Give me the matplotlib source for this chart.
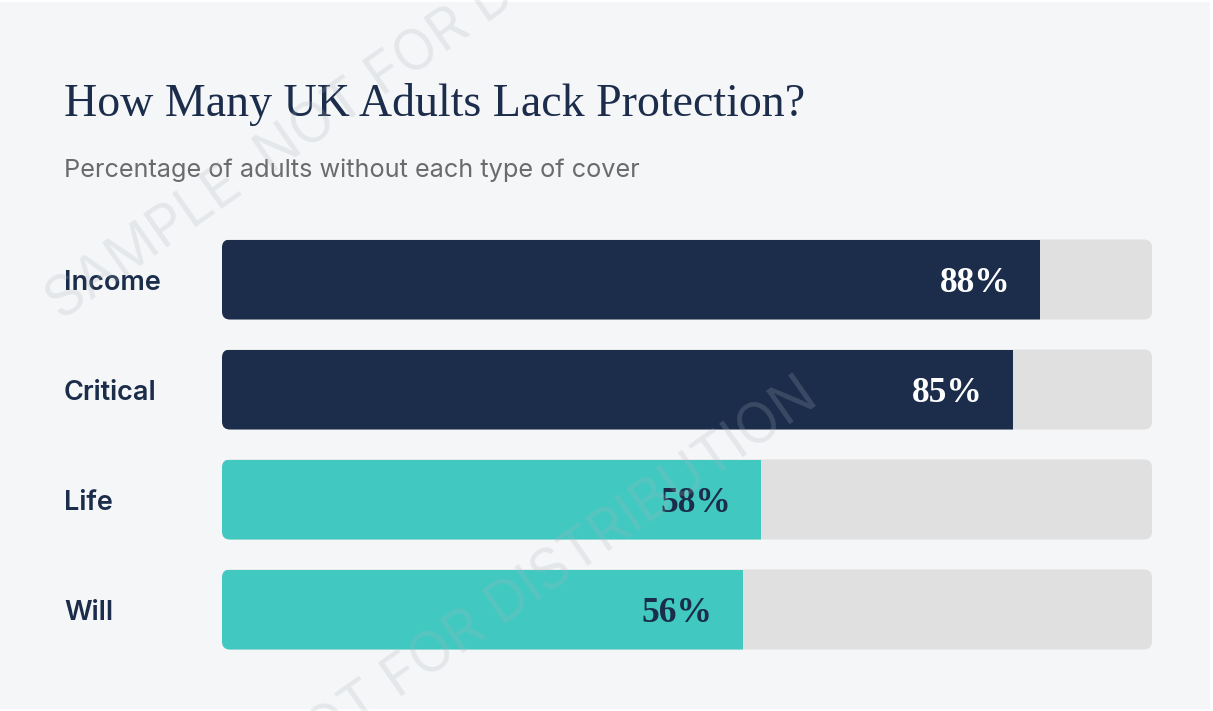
import matplotlib
matplotlib.use("Agg")
import matplotlib.pyplot as plt
from matplotlib.patches import FancyBboxPatch, Rectangle

# data
categories = ["Income", "Critical", "Life", "Will"]
values = [88, 85, 58, 56]
value_labels = ["88%", "85%", "58%", "56%"]

title = "How Many UK Adults Lack Protection?"
subtitle = "Percentage of adults without each type of cover"
watermark = "SAMPLE  NOT FOR DISTRIBUTION"

# style
W, H = 1213, 711
navy = "#1b2d4b"
teal = "#41c9c1"
track_col = "#e0e0e0"
bg = "#f5f6f8"
bar_colors = [navy, navy, teal, teal]
text_colors = ["white", "white", navy, navy]

fig = plt.figure(figsize=(W / 100, H / 100), dpi=100, facecolor="white")
fig.patches.append(Rectangle((0, 2), 1210, 707, transform=None, facecolor=bg,
                             edgecolor="none", zorder=-10))

px = lambda x, y: (x / W, 1 - y / H)

fig.text(*px(64, 116), title, family=["Liberation Serif", "DejaVu Serif"],
         fontsize=33, color=navy, ha="left", va="baseline")
fig.text(*px(64, 177), subtitle, family=["Inter", "DejaVu Sans"],
         fontsize=18.2, color="#6b6b6b", ha="left", va="baseline")

# bar axes: 930 px wide for 0-100, rows 110 px apart
ax = fig.add_axes([222 / W, (H - 664.5) / H, 930 / W, 440 / H])
ax.set_xlim(0, 100)
ax.set_ylim(len(categories) - 0.5, -0.5)
ax.axis("off")

bh = 80 / 110
aspect = (1 / 110) / (100 / 930)
rs = 8 * 100 / 930
ypos = list(range(len(categories)))

tracks = []
for i in ypos:
    t = FancyBboxPatch((0, i - bh / 2), 100, bh,
                       boxstyle=f"round,pad=0,rounding_size={rs}",
                       mutation_aspect=aspect, facecolor=track_col,
                       edgecolor="none", zorder=1)
    ax.add_patch(t)
    tracks.append(t)

bars = ax.barh(ypos, values, height=bh, color=bar_colors, zorder=2)
for b, t in zip(bars, tracks):
    b.set_clip_path(t)

for i, (v, lab, tc) in enumerate(zip(values, value_labels, text_colors)):
    ax.annotate(lab, (v, i), xytext=(-30, -12), textcoords="offset pixels",
                ha="right", va="baseline", color=tc, fontsize=25.5,
                fontweight="bold", family=["Liberation Serif", "DejaVu Serif"],
                zorder=3)

for i, cat in enumerate(categories):
    ax.annotate(cat, (0, i), xytext=(-158, -10.5), textcoords="offset pixels",
                ha="left", va="baseline", color=navy, fontsize=19.5,
                fontweight="semibold", family=["Inter", "DejaVu Sans"],
                annotation_clip=False)

# faint diagonal watermark
for (wx, wy) in [(62, 322), (78, 924)]:
    fig.text(*px(wx, wy), watermark, rotation=35, rotation_mode="anchor",
             ha="left", va="baseline", fontsize=40, color="#aab2bb",
             alpha=0.22, family=["Inter", "DejaVu Sans"], zorder=10)

fig.savefig("out.png", dpi=100, facecolor=fig.get_facecolor())
